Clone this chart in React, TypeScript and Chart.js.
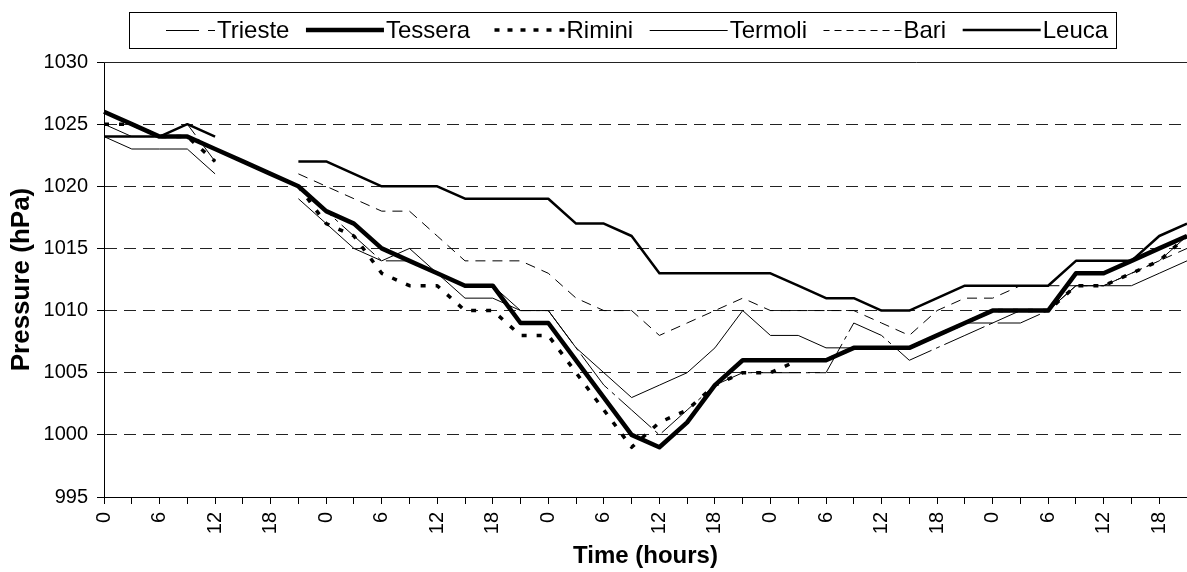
import React, { useEffect, useRef } from 'react';
import { Chart, registerables } from 'chart.js';

Chart.register(...registerables);

const FONT = "'Liberation Sans', Arial, Helvetica, sans-serif";

// x categories: every 3 hours over 5 days
const TIME_LABELS = [
  '0', '3', '6', '9', '12', '15', '18', '21',
  '0', '3', '6', '9', '12', '15', '18', '21',
  '0', '3', '6', '9', '12', '15', '18', '21',
  '0', '3', '6', '9', '12', '15', '18', '21',
  '0', '3', '6', '9', '12', '15', '18', '21',
];

const Y_MIN = 995;
const Y_MAX = 1030;
const Y_STEP = 5;
const X_TITLE = 'Time (hours)';
const Y_TITLE = 'Pressure (hPa)';

const TRIESTE = [1025, 1024, 1024, 1025, 1022, null, null, 1020, 1018, 1016, 1014, 1014, 1013, 1012, 1012, 1010, 1010, 1007, 1004, 1002, 1000, 1002, 1004, 1005, 1005, 1005, 1005, 1009, 1008, 1006, 1007, 1008, 1009, 1009, 1010, 1012, 1012, 1013, 1014, 1016];
const TESSERA = [1026, 1025, 1024, 1024, 1023, 1022, 1021, 1020, 1018, 1017, 1015, 1014, 1013, 1012, 1012, 1009, 1009, 1006, 1003, 1000, 999, 1001, 1004, 1006, 1006, 1006, 1006, 1007, 1007, 1007, 1008, 1009, 1010, 1010, 1010, 1013, 1013, 1014, 1015, 1016];
const RIMINI = [1025, 1025, 1024, 1024, 1022, null, null, 1020, 1017, 1016, 1013, 1012, 1012, 1010, 1010, 1008, 1008, 1005, 1002, 999, 1001, 1002, 1004, 1005, 1005, 1006, 1006, 1007, 1007, 1007, 1008, 1009, 1010, 1010, 1010, 1012, 1012, 1013, 1014, 1016];
const TERMOLI = [1024, 1023, 1023, 1023, 1021, null, null, 1019, 1017, 1015, 1014, 1015, 1013, 1011, 1011, 1010, 1010, 1007, 1005, 1003, 1004, 1005, 1007, 1010, 1008, 1008, 1007, 1007, 1007, 1007, 1008, 1009, 1009, 1010, 1010, 1012, 1012, 1012, 1013, 1014];
const BARI = [null, null, null, null, null, null, null, 1021, 1020, 1019, 1018, 1018, 1016, 1014, 1014, 1014, 1013, 1011, 1010, 1010, 1008, 1009, 1010, 1011, 1010, 1010, 1010, 1010, 1009, 1008, 1010, 1011, 1011, 1012, 1012, 1012, 1012, 1013, 1014, 1015];
const LEUCA = [1024, 1024, 1024, 1025, 1024, null, null, 1022, 1022, 1021, 1020, 1020, 1020, 1019, 1019, 1019, 1019, 1017, 1017, 1016, 1013, 1013, 1013, 1013, 1013, 1012, 1011, 1011, 1010, 1010, 1011, 1012, 1012, 1012, 1012, 1014, 1014, 1014, 1016, 1017];

const SERIES_NAMES = ['Trieste', 'Tessera', 'Rimini', 'Termoli', 'Bari', 'Leuca'];
const SERIES_VALUES = [TRIESTE, TESSERA, RIMINI, TERMOLI, BARI, LEUCA];
const SERIES_WIDTHS = [1, 4.5, 3.5, 1, 1, 2.5];
const SERIES_DASH: number[][] = [[44, 5, 4, 5], [], [5, 10], [], [10, 7], []];
const LEGEND_DASH: number[][] = [[7, 9, 33, 60], [], [5, 8], [], [7, 5], []];

// legend layout
const LEGEND_LEFT = 129;
const LEGEND_TOP = 12;
const LEGEND_HEIGHT = 36;
const LEGEND_SAMPLE = 78;
const LEGEND_GAP = 2;
const LEGEND_SPACING = 16.5;
const LEGEND_PAD = 8;
const LEGEND_FONT_SIZE = 24;

const boxLegendPlugin = {
  id: 'boxLegend',
  afterDraw(chart: any) {
    const ctx = chart.ctx as CanvasRenderingContext2D;
    ctx.save();
    ctx.font = `${LEGEND_FONT_SIZE}px ${FONT}`;
    const ds = chart.data.datasets;
    const widths = ds.map((d: any) => ctx.measureText(d.label).width);
    let total = LEGEND_PAD * 2 + LEGEND_SPACING * (ds.length - 1);
    widths.forEach((w: number) => { total += LEGEND_SAMPLE + LEGEND_GAP + w; });
    ctx.lineWidth = 1;
    ctx.strokeStyle = '#000';
    ctx.setLineDash([]);
    ctx.strokeRect(LEGEND_LEFT + 0.5, LEGEND_TOP + 0.5, Math.round(total), LEGEND_HEIGHT);
    const cy = LEGEND_TOP + LEGEND_HEIGHT / 2;
    let x = LEGEND_LEFT + LEGEND_PAD;
    ds.forEach((d: any, i: number) => {
      ctx.save();
      ctx.beginPath();
      ctx.lineWidth = d.borderWidth;
      ctx.strokeStyle = d.borderColor;
      ctx.lineCap = 'butt';
      ctx.setLineDash(LEGEND_DASH[i]);
      const ly = d.borderWidth % 2 === 1 ? Math.round(cy) + 0.5 : Math.round(cy);
      ctx.moveTo(x + LEGEND_SAMPLE, ly);
      ctx.lineTo(x, ly);
      ctx.stroke();
      ctx.restore();
      x += LEGEND_SAMPLE + LEGEND_GAP;
      ctx.fillStyle = '#000';
      ctx.textBaseline = 'middle';
      ctx.textAlign = 'left';
      ctx.fillText(d.label, x, cy + 1);
      x += widths[i] + LEGEND_SPACING;
    });
    ctx.restore();
  },
};

// solid top edge of the plot area
const topLinePlugin = {
  id: 'topLine',
  afterDatasetsDraw(chart: any) {
    const { ctx, chartArea } = chart;
    ctx.save();
    ctx.strokeStyle = '#222';
    ctx.lineWidth = 1;
    ctx.setLineDash([]);
    const y = Math.round(chartArea.top) + 0.5;
    ctx.beginPath();
    ctx.moveTo(chartArea.left, y);
    ctx.lineTo(chartArea.right, y);
    ctx.stroke();
    ctx.restore();
  },
};

export default function App() {
  const ref = useRef<HTMLCanvasElement | null>(null);

  useEffect(() => {
    document.body.style.margin = '0';
    const canvas = ref.current;
    if (!canvas) return;
    const chart = new Chart(canvas, {
      type: 'line',
      data: {
        labels: TIME_LABELS,
        datasets: SERIES_NAMES.map((name, i) => ({
          label: name,
          data: SERIES_VALUES[i],
          borderColor: '#000',
          backgroundColor: '#000',
          borderWidth: SERIES_WIDTHS[i],
          borderDash: SERIES_DASH[i],
          borderCapStyle: 'butt',
          borderJoinStyle: 'round',
          pointRadius: 0,
          fill: false,
          tension: 0,
          spanGaps: false,
        })),
      },
      options: {
        animation: false,
        responsive: false,
        maintainAspectRatio: false,
        layout: { padding: { top: 62, left: 0, right: 0, bottom: 0 } },
        plugins: {
          legend: { display: false },
          tooltip: { enabled: false },
        },
        scales: {
          x: {
            type: 'category',
            offset: false,
            grid: {
              drawOnChartArea: false,
              drawTicks: true,
              tickLength: 7,
              color: '#000',
              tickColor: '#000',
            },
            border: { display: true, color: '#000', width: 1 },
            ticks: {
              autoSkip: false,
              maxRotation: 90,
              minRotation: 90,
              padding: 8,
              color: '#000',
              font: { family: FONT, size: 20 },
              callback: function (this: any, val: any, idx: number) {
                return idx % 2 === 0 ? this.getLabelForValue(val) : '';
              },
            },
            title: {
              display: true,
              text: X_TITLE,
              color: '#000',
              font: { family: FONT, size: 24, weight: 'bold' },
              padding: { top: 0, bottom: 1 },
            },
            afterFit: (s: any) => {
              s.height = 75;
              s.paddingRight = 0;
              s.paddingLeft = 0;
            },
          },
          y: {
            min: Y_MIN,
            max: Y_MAX,
            ticks: {
              stepSize: Y_STEP,
              padding: 9,
              color: '#000',
              font: { family: FONT, size: 20 },
              callback: (v: any) => String(v),
            },
            grid: {
              color: '#222',
              lineWidth: 1,
              drawTicks: true,
              tickLength: 7,
              tickColor: '#000',
            },
            border: { display: true, color: '#000', width: 1, dash: [12, 7] },
            title: {
              display: true,
              text: Y_TITLE,
              color: '#000',
              font: { family: FONT, size: 26, weight: 'bold' },
              padding: { top: 6, bottom: 0 },
            },
            afterFit: (s: any) => {
              s.width = 104;
            },
          },
        },
      },
      plugins: [boxLegendPlugin, topLinePlugin],
    } as any);
    return () => chart.destroy();
  }, []);

  return (
    <canvas
      ref={ref}
      width={1187}
      height={572}
      style={{ display: 'block', width: '1187px', height: '572px' }}
    />
  );
}
